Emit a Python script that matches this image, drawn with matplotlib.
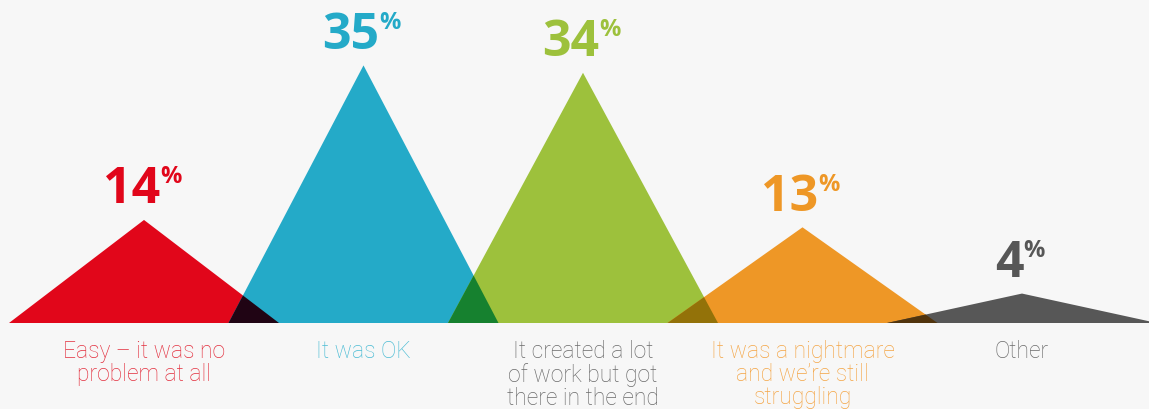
import numpy as np
import matplotlib
matplotlib.use("Agg")
import matplotlib.pyplot as plt
from matplotlib.colors import to_rgb

# --------- Data ---------
categories = [
    "Easy \u2013 it was no\nproblem at all",
    "It was OK",
    "It created a lot\nof work but got\nthere in the end",
    "It was a nightmare\nand we\u2019re still\nstruggling",
    "Other",
]
values = [14, 35, 34, 13, 4]

tri_colors = ["#e1061a", "#24aac8", "#9dc13c", "#ee9726", "#575757"]
label_colors = ["#e3303f", "#4cbcd4", "#6a6a6a", "#f4a545", "#6a6a6a"]

# --------- Figure ---------
W, H, DPI = 1149, 409, 100
fig = plt.figure(figsize=(W / DPI, H / DPI), dpi=DPI)
fig.patch.set_facecolor("#f7f7f7")
ax = fig.add_axes([0, 0, 1, 1])
ax.set_facecolor("#f7f7f7")
ax.axis("off")

step_px = 219.5          # distance between peaks
first_px = 144           # first peak position
px_per_pct = 7.36
base_px = 86             # baseline height from bottom
half = 135 / step_px     # half base width in category units

ax.set_xlim(-first_px / step_px, (W - first_px) / step_px)
ax.set_ylim(-base_px / px_per_pct, (H - base_px) / px_per_pct)

xs = np.arange(len(values))

# triangles
for x, v, c in zip(xs, values, tri_colors):
    ax.fill([x - half, x, x + half], [0, v, 0], color=c, lw=0, zorder=2)

# overlaps between neighbours drawn with multiplied colours
for i in range(len(values) - 1):
    xi, hi = xs[i], values[i]
    xj, hj = xs[i + 1], values[i + 1]
    if xj - half >= xi + half:
        continue
    xm = (hi * (xi + half) + hj * (xj - half)) / (hi + hj)
    ym = hi * (xi + half - xm) / half
    mix = tuple(a * b for a, b in zip(to_rgb(tri_colors[i]), to_rgb(tri_colors[i + 1])))
    ax.fill([xj - half, xm, xi + half], [0, ym, 0], color=mix, lw=0, zorder=3)

# percentage labels
for x, v, c in zip(xs, values, tri_colors):
    num = ax.annotate(
        f"{v}", xy=(x, v), xytext=(-9, 12), textcoords="offset points",
        ha="center", va="baseline", fontsize=36, fontweight="bold",
        family="Open Sans", color=c, zorder=4,
    )
    ax.annotate(
        "%", xy=(1, 1), xycoords=num, xytext=(0, 0), textcoords="offset points",
        ha="left", va="top", fontsize=17, fontweight="bold",
        family="Open Sans", color=c, zorder=4,
    )

# category labels
for x, lab, c in zip(xs, categories, label_colors):
    ax.annotate(
        lab, xy=(x, 0), xytext=(0, -12), textcoords="offset points",
        ha="center", va="top", fontsize=16.5, fontweight="light",
        family="Roboto", color=c, linespacing=1.02,
    )

fig.savefig("out.png", dpi=DPI, facecolor=fig.get_facecolor())
